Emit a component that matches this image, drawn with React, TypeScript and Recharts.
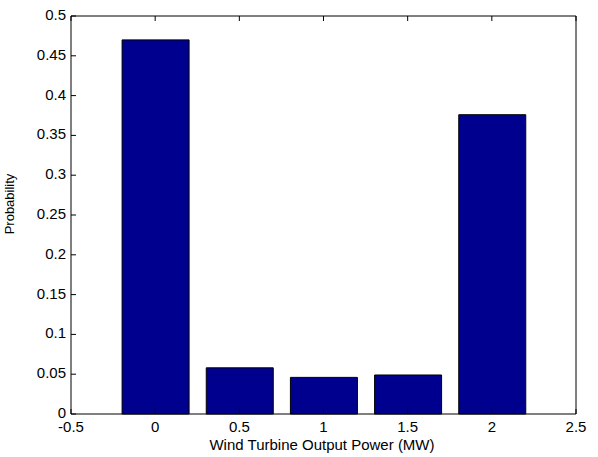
import React from "react";
import { BarChart, Bar, XAxis, YAxis } from "recharts";

// wind turbine output levels (MW) and their probabilities
const powerLevels = [0, 0.5, 1, 1.5, 2];
const probabilities = [0.47, 0.058, 0.046, 0.049, 0.376];

const xTicks = [-0.5, 0, 0.5, 1, 1.5, 2, 2.5];
const yTicks = [0, 0.05, 0.1, 0.15, 0.2, 0.25, 0.3, 0.35, 0.4, 0.45, 0.5];

const data = powerLevels.map((x, i) => ({ x, p: probabilities[i] }));

const FONT = "'Liberation Sans', Arial, sans-serif";
const TICK_LEN = 5;

const fmt = (v: number) => String(Math.round(v * 100) / 100);

const BottomTick = ({ x, y, payload }: any) => (
  <g>
    <line x1={x} y1={y} x2={x} y2={y - TICK_LEN} stroke="#000" />
    <text x={x} y={y + 18} textAnchor="middle" fontSize={15} fontFamily={FONT} fill="#000">
      {fmt(payload.value)}
    </text>
  </g>
);

const TopTick = ({ x, y }: any) => (
  <line x1={x} y1={y} x2={x} y2={y + TICK_LEN} stroke="#000" />
);

const LeftTick = ({ x, y, payload }: any) => (
  <g>
    <line x1={x} y1={y} x2={x + TICK_LEN} y2={y} stroke="#000" />
    <text x={x - 5} y={y + 4} textAnchor="end" fontSize={15} fontFamily={FONT} fill="#000">
      {fmt(payload.value)}
    </text>
  </g>
);

const RightTick = ({ x, y }: any) => (
  <line x1={x} y1={y} x2={x - TICK_LEN} y2={y} stroke="#000" />
);

export default function App() {
  return (
    <div style={{ position: "absolute", left: 0, top: 0, width: 598, height: 457, background: "#fff" }}>
      <BarChart
        width={598}
        height={457}
        data={data}
        margin={{ top: 6, right: 12, bottom: 13, left: 11 }}
      >
        <XAxis
          dataKey="x"
          type="number"
          domain={[-0.5, 2.5]}
          ticks={xTicks}
          interval={0}
          height={30}
          tickSize={0}
          tickMargin={0}
          tickLine={false}
          axisLine={{ stroke: "#000" }}
          tick={<BottomTick />}
        />
        <XAxis
          xAxisId="top"
          dataKey="x"
          type="number"
          orientation="top"
          domain={[-0.5, 2.5]}
          ticks={xTicks}
          interval={0}
          height={10}
          tickSize={0}
          tickMargin={0}
          tickLine={false}
          axisLine={{ stroke: "#000" }}
          tick={<TopTick />}
        />
        <YAxis
          type="number"
          domain={[0, 0.5]}
          ticks={yTicks}
          interval={0}
          width={60}
          tickSize={0}
          tickMargin={0}
          tickLine={false}
          axisLine={{ stroke: "#000" }}
          tick={<LeftTick />}
        />
        <YAxis
          yAxisId="right"
          type="number"
          orientation="right"
          domain={[0, 0.5]}
          ticks={yTicks}
          interval={0}
          width={10}
          tickSize={0}
          tickMargin={0}
          tickLine={false}
          axisLine={{ stroke: "#000" }}
          tick={<RightTick />}
        />
        <Bar dataKey="p" fill="#00008F" stroke="#000" strokeWidth={1} barSize={67} isAnimationActive={false} />
      </BarChart>
      <div
        style={{
          position: "absolute",
          left: 0,
          width: 644,
          top: 436,
          textAlign: "center",
          fontFamily: FONT,
          fontSize: 15,
          lineHeight: "18px",
          color: "#000",
        }}
      >
        Wind Turbine Output Power (MW)
      </div>
      <div
        style={{
          position: "absolute",
          left: 9,
          top: 204,
          transform: "translate(-50%, -50%) rotate(-90deg)",
          fontFamily: FONT,
          fontSize: 13,
          lineHeight: "15px",
          whiteSpace: "nowrap",
          color: "#000",
        }}
      >
        Probability
      </div>
    </div>
  );
}
